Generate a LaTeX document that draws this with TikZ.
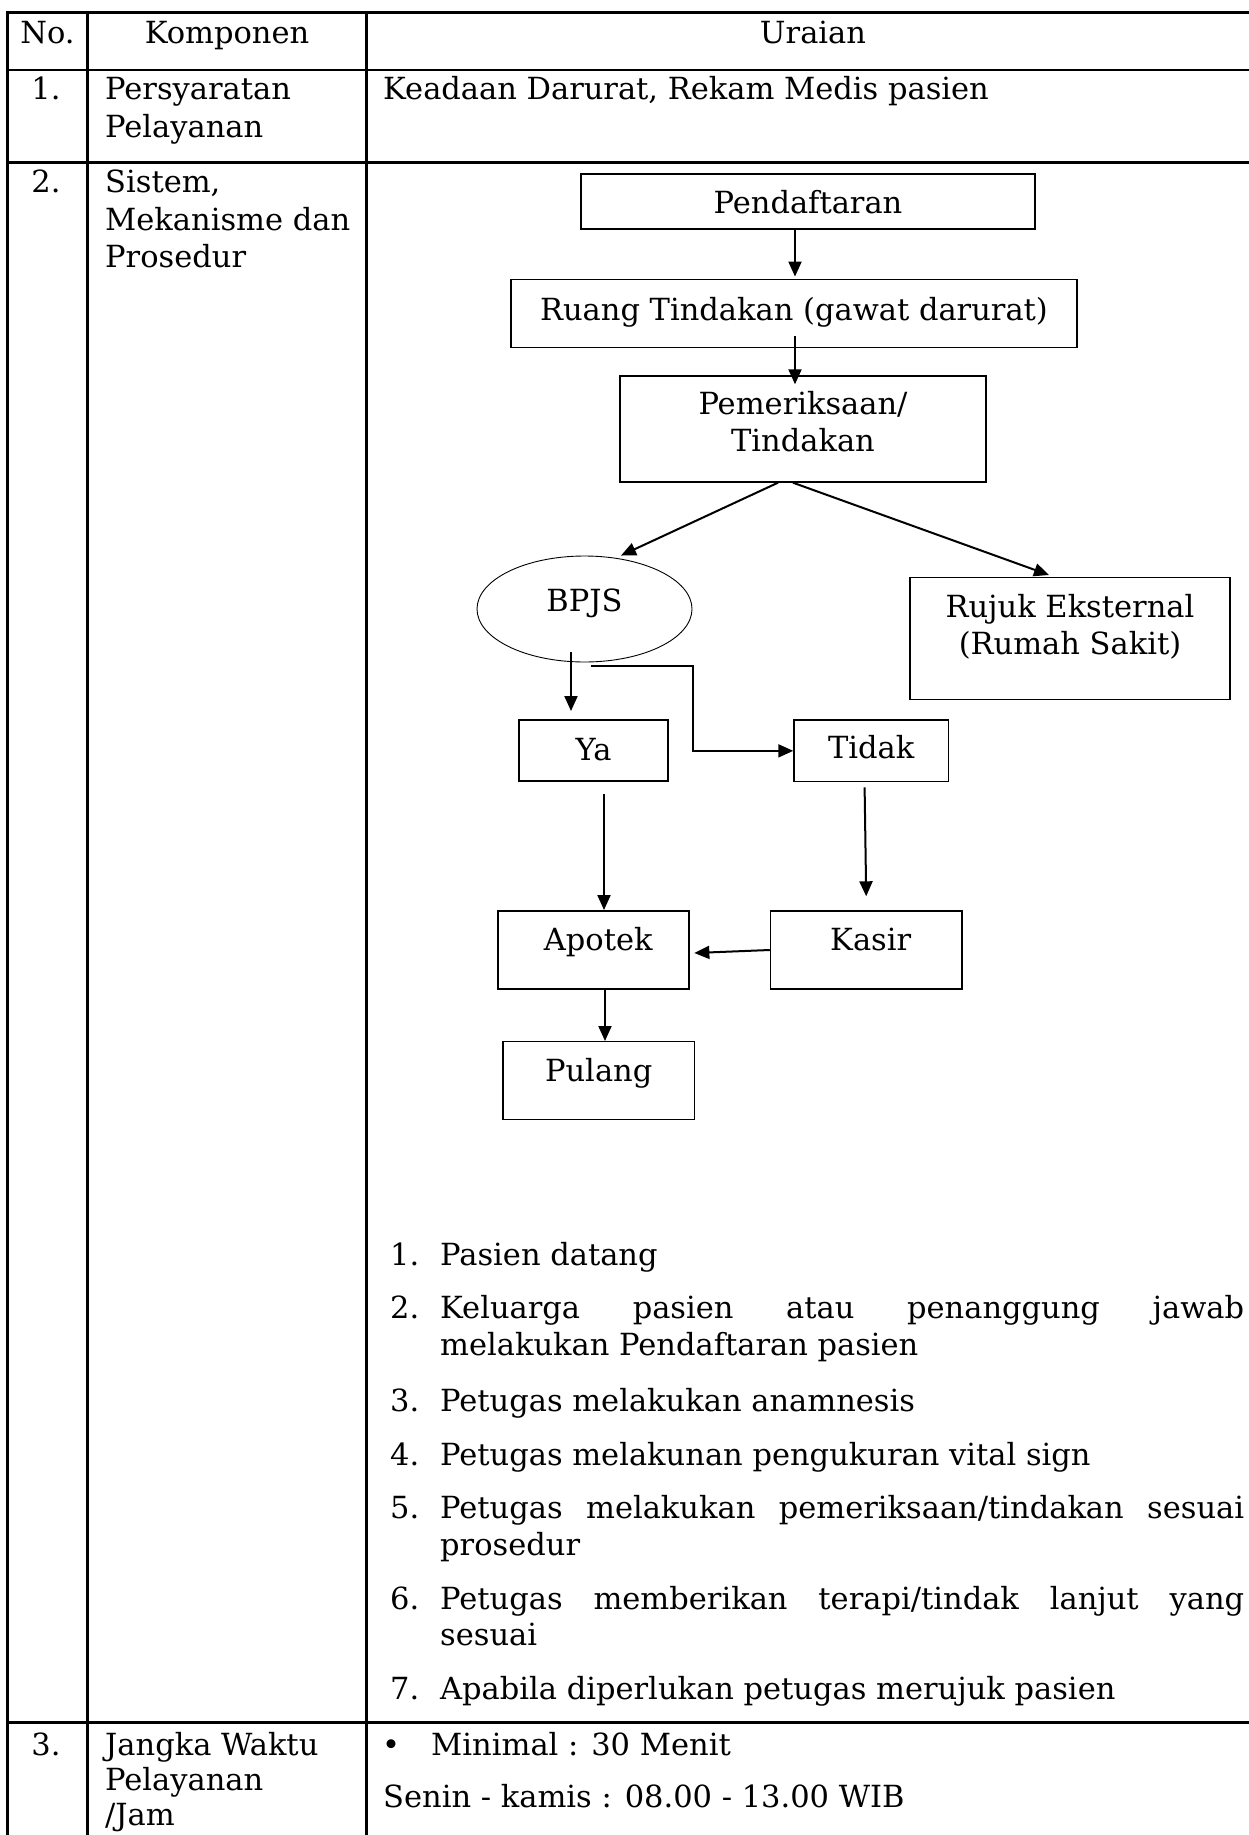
\documentclass[tikz,border=0pt]{standalone}
\usepackage{fontspec}
\setmainfont{DejaVu Serif}
\usetikzlibrary{arrows.meta,shapes.geometric}
\newcommand{\jline}[1]{\makebox[804pt][s]{#1}}

\begin{document}
\begin{tikzpicture}[x=1pt,y=-1pt,
    font=\fontsize{30.5}{37.5}\selectfont,
    grid/.style={line width=2.5pt,line cap=rect},
    box/.style={draw,line width=1.4pt,inner sep=0pt},
    arr/.style={line width=2pt,-{Triangle[length=15pt,width=13pt]}},
    txt/.style={anchor=base west,inner sep=0pt},
    ctxt/.style={anchor=base,inner sep=0pt}]
    \useasboundingbox (0,0) rectangle (1249,1835);
    % table rules
    \foreach \y in {12.7,70,162.3,1722.7}
        \draw[grid] (7.3,\y) -- (1252,\y);
    \foreach \x in {7.3,87.7,366.7}
        \draw[grid] (\x,12.7) -- (\x,1840);
    % header and left columns
    \node[ctxt] (hno) at (47.5,44) {No.};
    \node[ctxt] (hkomp) at (227,44) {Komponen};
    \node[ctxt] (hurai) at (813,44) {Uraian};
    \node[ctxt] (no1) at (46,100) {1.};
    \node[txt] (syarat1) at (105,100) {Persyaratan};
    \node[txt] (syarat2) at (105,138) {Pelayanan};
    \node[txt] (syaratisi) at (383,100) {Keadaan Darurat, Rekam Medis pasien};
    \node[ctxt] (no2) at (46,193) {2.};
    \node[txt] (sistem1) at (105,193) {Sistem,};
    \node[txt] (sistem2) at (105,231) {Mekanisme dan};
    \node[txt] (sistem3) at (105,268) {Prosedur};
    \node[ctxt] (no3) at (46,1755) {3.};
    \node[txt] (waktu1) at (105,1755) {Jangka Waktu};
    \node[txt] (waktu2) at (105,1790) {Pelayanan};
    \node[txt] (waktu3) at (105,1825) {/Jam};
    \node[ctxt] (titik) at (391,1755) {•};
    \node[txt] (waktuisi1) at (431,1755) {Minimal : 30 Menit};
    \node[txt] (waktuisi2) at (383,1807) {Senin - kamis : 08.00 - 13.00 WIB};
    % flowchart
    \node[box,minimum width=454pt,text height=40pt,text depth=15pt] (daftar) at (808,201.5) {Pendaftaran};
    \node[box,minimum width=566pt,text height=41.4pt,text depth=26.6pt] (ruang) at (794,313.3) {Ruang Tindakan (gawat darurat)};
    \node[box,minimum width=366pt,minimum height=106pt,
        label={[align=center,inner sep=0pt,anchor=north,yshift=-15.5pt]north:Pemeriksaan/\\Tindakan}] (periksa) at (803,429) {};
    \node[draw,ellipse,line width=0.9pt,inner sep=0pt,minimum width=215pt,minimum height=106pt,
        text height=20pt,text depth=14.6pt] (bpjs) at (584.5,609) {BPJS};
    \node[box,minimum width=320pt,minimum height=121.6pt,
        label={[align=center,inner sep=0pt,anchor=north,yshift=-17pt]north:Rujuk Eksternal\\(Rumah Sakit)}] (rujuk) at (1070,638.5) {};
    \node[box,line width=1.9pt,minimum width=149pt,text height=40pt,text depth=21pt] (ya) at (593.5,750.5) {Ya};
    \node[box,minimum width=154.5pt,text height=38.3pt,text depth=23.4pt] (tidak) at (871.2,750.85) {Tidak};
    \node[box,line width=1.9pt,minimum width=191pt,text height=39.7pt,text depth=38.3pt] (apotek) at (593.3,950) {\hspace*{10pt}Apotek};
    \node[box,minimum width=191.5pt,text height=39.7pt,text depth=38.3pt] (kasir) at (866.2,950) {\hspace*{9pt}Kasir};
    \node[box,minimum width=191.5pt,text height=40pt,text depth=37.6pt] (pulang) at (598.7,1080.5) {Pulang};
    \draw[arr] ([xshift=-13pt]daftar.south) -- ([xshift=1pt,yshift=2pt]ruang.north);
    \draw[arr] ([xshift=1pt,yshift=12pt]ruang.south) -- ([xshift=-8pt,yshift=-9pt]periksa.north);
    \draw[arr] ([xshift=-25pt]periksa.south) -- ([xshift=36.5pt]bpjs.north);
    \draw[arr] ([xshift=-10pt]periksa.south) -- ([xshift=-21pt,yshift=2pt]rujuk.north);
    \draw[arr] ([xshift=-13.5pt,yshift=10pt]bpjs.south) -- ([xshift=-22.5pt,yshift=8pt]ya.north);
    \draw[arr] ([xshift=6.5pt,yshift=-4pt]bpjs.south) -- ++(102,0) |- (tidak.west);
    \draw[arr] ([xshift=10.5pt,yshift=-12pt]ya.south) -- ([xshift=10.7pt]apotek.north);
    \draw[arr] ([xshift=-6.6pt,yshift=-5pt]tidak.south) -- ([yshift=14pt]kasir.north);
    \draw[arr] (kasir.west) -- ([xshift=4.6pt,yshift=-3pt]apotek.east);
    \draw[arr] ([xshift=11.7pt,yshift=2pt]apotek.south) -- ([xshift=6.3pt]pulang.north);
    % numbered steps
    \foreach \n/\y in {1/1265,2/1318,3/1411,4/1465,5/1518,6/1609,7/1699}
        \node[txt] (num\n) at (390,\y) {\n.};
    \node[txt] (step1) at (440,1265) {Pasien datang};
    \node[txt] (step2a) at (440,1318) {\jline{Keluarga pasien atau penanggung jawab}};
    \node[txt] (step2b) at (440,1355) {melakukan Pendaftaran pasien};
    \node[txt] (step3) at (440,1411) {Petugas melakukan anamnesis};
    \node[txt] (step4) at (440,1465) {Petugas melakunan pengukuran vital sign};
    \node[txt] (step5a) at (440,1518) {\jline{Petugas melakukan pemeriksaan/tindakan sesuai}};
    \node[txt] (step5b) at (440,1555) {prosedur};
    \node[txt] (step6a) at (440,1609) {\jline{Petugas memberikan terapi/tindak lanjut yang}};
    \node[txt] (step6b) at (440,1645) {sesuai};
    \node[txt] (step7) at (440,1699) {Apabila diperlukan petugas merujuk pasien};
\end{tikzpicture}
\end{document}
